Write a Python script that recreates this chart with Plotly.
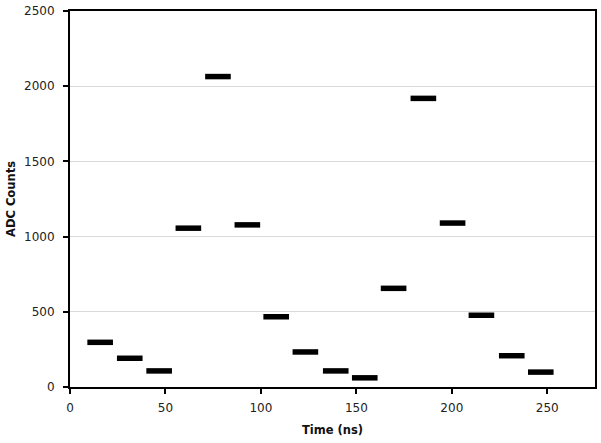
import plotly.graph_objects as go

time_ns = [15.8, 31.3, 46.7, 62.0, 77.5, 92.9, 108.0, 123.3,
           139.2, 154.4, 169.5, 185.1, 200.4, 215.5, 231.4, 246.6]
adc_counts = [297, 191, 107, 1056, 2064, 1078, 467, 233,
              107, 61, 656, 1919, 1090, 477, 208, 99]

x_ticks = [0, 50, 100, 150, 200, 250]
y_ticks = [0, 500, 1000, 1500, 2000, 2500]

fig = go.Figure()
fig.add_trace(go.Scatter(
    x=time_ns, y=adc_counts, mode="markers",
    marker=dict(symbol="line-ew", size=18.3, color="black",
                line=dict(color="black", width=5.5)),
    showlegend=False,
))

font_family = "DejaVu Sans"
fig.update_layout(
    width=601, height=443,
    margin=dict(l=70, r=6, t=11, b=56),
    paper_bgcolor="white", plot_bgcolor="white",
    font=dict(family=font_family, size=12, color="#222"),
    xaxis=dict(
        range=[0, 275], tickvals=x_ticks, ticks="outside", ticklen=5,
        tickwidth=2, tickcolor="black", automargin=False,
        showline=True, linecolor="black", linewidth=2, mirror=True,
        showgrid=False, zeroline=False,
        tickfont=dict(size=12, color="#222"),
        ticklabelstandoff=4,
        title=dict(text="<b>Time (ns)</b>", font=dict(size=11.5, color="#111"), standoff=12),
    ),
    yaxis=dict(
        range=[0, 2500], tickvals=y_ticks, ticks="outside", ticklen=5,
        tickwidth=2, tickcolor="black", automargin=False,
        showline=True, linecolor="black", linewidth=2, mirror=True,
        showgrid=True, gridcolor="#d9d9d9", gridwidth=1, zeroline=False,
        tickfont=dict(size=12, color="#222"),
        ticklabelstandoff=6,
        title=dict(text="<b>ADC Counts</b>", font=dict(size=11.5, color="#111"), standoff=6),
    ),
)

fig.write_html("out.html", config={"displayModeBar": False},
               post_script="document.body.style.margin='0';")
